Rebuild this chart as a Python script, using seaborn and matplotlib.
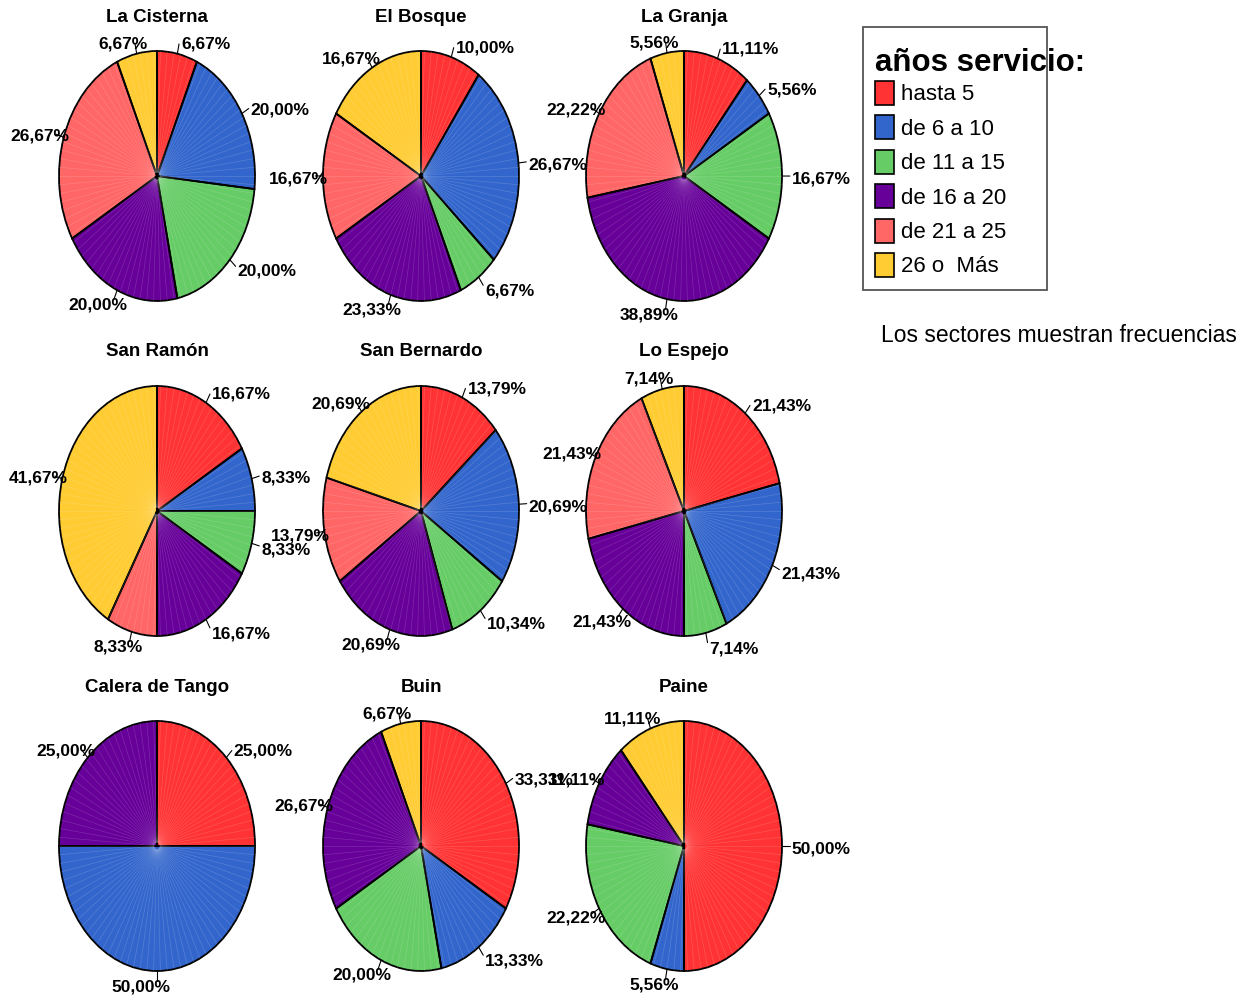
import matplotlib.pyplot as plt
import numpy as np
import seaborn as sns
from matplotlib.patches import Rectangle

# Percentages per comuna, in order of the categories below
categories = ["hasta 5", "de 6 a 10", "de 11 a 15", "de 16 a 20", "de 21 a 25", "26 o  Más"]
comunas = ["La Cisterna", "El Bosque", "La Granja",
           "San Ramón", "San Bernardo", "Lo Espejo",
           "Calera de Tango", "Buin", "Paine"]
la_cisterna = [6.67, 20.00, 20.00, 20.00, 26.67, 6.67]
el_bosque = [10.00, 26.67, 6.67, 23.33, 16.67, 16.67]
la_granja = [11.11, 5.56, 16.67, 38.89, 22.22, 5.56]
san_ramon = [16.67, 8.33, 8.33, 16.67, 8.33, 41.67]
san_bernardo = [13.79, 20.69, 10.34, 20.69, 13.79, 20.69]
lo_espejo = [21.43, 21.43, 7.14, 21.43, 21.43, 7.14]
calera_de_tango = [25.00, 50.00, 0, 25.00, 0, 0]
buin = [33.33, 13.33, 20.00, 26.67, 0, 6.67]
paine = [50.00, 5.56, 22.22, 11.11, 0, 11.11]
values = [la_cisterna, el_bosque, la_granja, san_ramon, san_bernardo,
          lo_espejo, calera_de_tango, buin, paine]

sns.set_theme(style="white", rc={"text.color": "black"})
plt.rcParams["font.family"] = ["Liberation Sans", "DejaVu Sans"]
palette = sns.color_palette(["#FF3333", "#3366CC", "#66CC66", "#660099", "#FF6666", "#FFCC33"])

W, H = 1256, 999
fig = plt.figure(figsize=(W / 100, H / 100), dpi=100)

col_x = [157, 421, 684]
row_y = [176, 511, 846]
rx, ry = 98, 125

for i, (name, vals) in enumerate(zip(comunas, values)):
    cx, cy = col_x[i % 3], row_y[i // 3]
    ax = fig.add_axes([(cx - rx) / W, 1 - (cy + ry) / H, 2 * rx / W, 2 * ry / H])
    ax.axis("off")

    keep = [k for k, v in enumerate(vals) if v > 0]
    v = [vals[k] for k in keep]
    cols = [palette[k] for k in keep]
    ax.pie(v, colors=cols, startangle=90, counterclock=False, radius=1,
           wedgeprops=dict(linewidth=0))
    # faint radial streaks like the original render
    for a in np.deg2rad(np.arange(0, 360, 4)):
        ax.plot([0.03 * np.cos(a), np.cos(a)], [0.03 * np.sin(a), np.sin(a)],
                color="white", alpha=0.16, lw=0.5)
    ax.pie(v, colors=["none"] * len(v), startangle=90, counterclock=False, radius=1,
           wedgeprops=dict(linewidth=1.3, edgecolor="black", facecolor="none"))
    ax.set_xlim(-1, 1)
    ax.set_ylim(-1, 1)
    ax.set_aspect("auto")

    cum = 0
    for val in v:
        mid = np.deg2rad(90 - (cum + val / 2) * 3.6)
        cum += val
        c, s = np.cos(mid), np.sin(mid)
        ax.plot([c, 1.08 * c], [s, 1.08 * s], color="black", lw=0.8, clip_on=False)
        lab = f"{val:.2f}%".replace(".", ",")
        if c > 1e-6:
            ha, dx = "left", 2
        else:
            ha, dx = "right", 13
        dy = -(3 - 3 * s)
        ax.annotate(lab, xy=(1.08 * c, 1.08 * s), xytext=(dx, dy),
                    textcoords="offset pixels", ha=ha, va="center",
                    fontsize=12.5, fontweight="bold", annotation_clip=False)

    fig.text(cx / W, 1 - (cy - ry - 34) / H, name, ha="center", va="center",
             fontsize=13.5, fontweight="bold")

# legend and note drawn in pixel coordinates
ov = fig.add_axes([0, 0, 1, 1], zorder=-1)
ov.set_xlim(0, W)
ov.set_ylim(H, 0)
ov.axis("off")
ov.add_patch(Rectangle((863, 27), 184, 263, facecolor="white", edgecolor="#555555", lw=1.3))
ov.text(875, 63, "años servicio:", fontsize=22.5, fontweight="bold", va="center", ha="left")
for k, cat in enumerate(categories):
    yc = 93 + k * 34.4
    ov.add_patch(Rectangle((875, yc - 12), 19, 24, facecolor=palette[k], edgecolor="black", lw=1.2))
    ov.text(901, yc + 2, cat, fontsize=16, va="center", ha="left")
ov.text(881, 336, "Los sectores muestran frecuencias", fontsize=16.5, va="center", ha="left")

fig.savefig("out.png", dpi=100)
